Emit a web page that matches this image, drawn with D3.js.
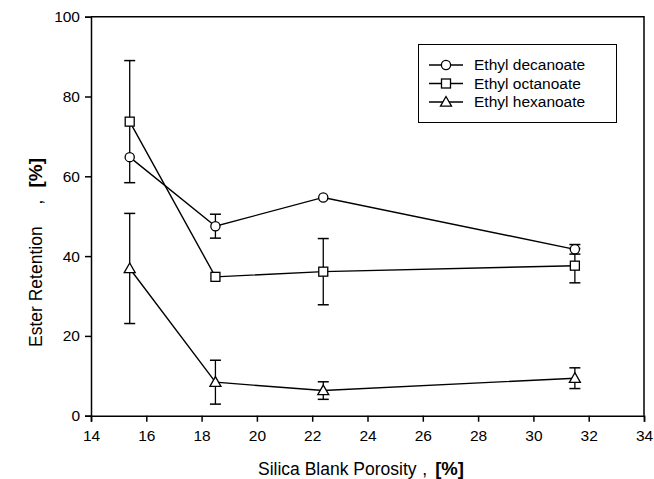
<!DOCTYPE html>
<html>
<head>
<meta charset="utf-8">
<script src="https://cdn.jsdelivr.net/npm/d3@7"></script>
<style>
  html, body { margin: 0; padding: 0; background: #fff; }
  svg { display: block; font-family: "Liberation Sans", Arial, sans-serif; }
</style>
</head>
<body>
<svg id="chart" width="654" height="479"></svg>
<script>
// ---- data ----
const porosity = [15.4, 18.5, 22.4, 31.5];
const seriesNames = ["Ethyl decanoate", "Ethyl octanoate", "Ethyl hexanoate"];
const seriesSymbols = ["circle", "square", "triangle"];
const decanoate = [64.8, 47.5, 54.7, 41.7];
const decanoateErr = [0, 3.0, 0, 1.2];
const octanoate = [73.7, 34.8, 36.1, 37.6];
const octanoateErr = [15.3, 0, 8.3, 4.3];
const hexanoate = [36.9, 8.4, 6.3, 9.4];
const hexanoateErr = [13.8, 5.5, 2.2, 2.6];
const xTicks = [14, 16, 18, 20, 22, 24, 26, 28, 30, 32, 34];
const yTicks = [0, 20, 40, 60, 80, 100];
const xTitleParts = ["Silica Blank Porosity", ",", "[%]"];
const yTitleParts = ["Ester Retention", ",", "[%]"];

const series = [
  { name: seriesNames[0], sym: seriesSymbols[0], v: decanoate, e: decanoateErr },
  { name: seriesNames[1], sym: seriesSymbols[1], v: octanoate, e: octanoateErr },
  { name: seriesNames[2], sym: seriesSymbols[2], v: hexanoate, e: hexanoateErr }
];

// ---- layout ----
const L = 91, R = 644, T = 16.7, B = 415.7;
const svg = d3.select("#chart");
const x = d3.scaleLinear().domain([14, 34]).range([L, R]);
const y = d3.scaleLinear().domain([0, 100]).range([B, T]);

// frame (top & right)
svg.append("path")
  .attr("d", `M${L},${T}H${R}V${B}`)
  .attr("fill", "none").attr("stroke", "#000").attr("stroke-width", 1.5);

// axes
const xAxis = svg.append("g").attr("transform", `translate(0,${B})`)
  .call(d3.axisBottom(x).tickValues(xTicks).tickSize(6).tickPadding(8).tickFormat(d3.format("d")));
const yAxis = svg.append("g").attr("transform", `translate(${L},0)`)
  .call(d3.axisLeft(y).tickValues(yTicks).tickSize(6).tickPadding(5).tickFormat(d3.format("d")));
[xAxis, yAxis].forEach(g => {
  g.select(".domain").attr("stroke", "#000").attr("stroke-width", 1.5);
  g.selectAll(".tick line").attr("stroke", "#000").attr("stroke-width", 1.5);
  g.selectAll(".tick text").attr("fill", "#000").attr("font-size", 15.5)
    .attr("font-family", "'Liberation Sans', Arial, sans-serif");
});

// titles
const xt = svg.append("text").attr("x", 258).attr("y", 475)
  .attr("font-size", 17.5).attr("fill", "#000");
xt.append("tspan").text(xTitleParts[0]);
xt.append("tspan").attr("dx", 7).text(xTitleParts[1]);
xt.append("tspan").attr("dx", 8).attr("font-weight", "bold").attr("font-size", 18.5).text(xTitleParts[2]);

const yt = svg.append("text").attr("transform", `translate(42,347) rotate(-90)`)
  .attr("font-size", 17.5).attr("fill", "#000");
yt.append("tspan").text(yTitleParts[0]);
yt.append("tspan").attr("dx", 22).text(yTitleParts[1]);
yt.append("tspan").attr("dx", 12).attr("font-weight", "bold").attr("font-size", 19).text(yTitleParts[2]);

// symbol helper
function drawSymbol(g, sym, cx, cy) {
  if (sym === "circle") {
    g.append("circle").attr("cx", cx).attr("cy", cy).attr("r", 4.6)
      .attr("fill", "#fff").attr("stroke", "#000").attr("stroke-width", 1.3);
  } else if (sym === "square") {
    g.append("rect").attr("x", cx - 4.5).attr("y", cy - 4.5).attr("width", 9).attr("height", 9)
      .attr("fill", "#fff").attr("stroke", "#000").attr("stroke-width", 1.3);
  } else {
    const s = 5.5;
    g.append("path")
      .attr("d", `M${cx},${cy - s}L${cx + s},${cy + s * 0.75}L${cx - s},${cy + s * 0.75}Z`)
      .attr("fill", "#fff").attr("stroke", "#000").attr("stroke-width", 1.3);
  }
}

const plot = svg.append("g");
// error bars
series.forEach(s => {
  s.v.forEach((v, i) => {
    if (!s.e[i]) return;
    const cx = x(porosity[i]);
    const y1 = y(v + s.e[i]), y2 = y(v - s.e[i]);
    plot.append("line").attr("x1", cx).attr("x2", cx).attr("y1", y1).attr("y2", y2)
      .attr("stroke", "#000").attr("stroke-width", 1.3);
    [y1, y2].forEach(yy => plot.append("line")
      .attr("x1", cx - 5.5).attr("x2", cx + 5.5).attr("y1", yy).attr("y2", yy)
      .attr("stroke", "#000").attr("stroke-width", 1.5));
  });
});
// lines
const line = d3.line().x((d, i) => x(porosity[i])).y(d => y(d));
series.forEach(s => {
  plot.append("path").attr("d", line(s.v)).attr("fill", "none")
    .attr("stroke", "#000").attr("stroke-width", 1.4);
});
// markers
series.forEach(s => {
  s.v.forEach((v, i) => drawSymbol(plot, s.sym, x(porosity[i]), y(v)));
});

// legend
const lg = svg.append("g");
lg.append("rect").attr("x", 418.5).attr("y", 44.5).attr("width", 198).attr("height", 78)
  .attr("fill", "#fff").attr("stroke", "#000").attr("stroke-width", 1);
series.forEach((s, i) => {
  const ry = 65 + i * 18.5;
  lg.append("line").attr("x1", 429).attr("x2", 463).attr("y1", ry).attr("y2", ry)
    .attr("stroke", "#000").attr("stroke-width", 1.4);
  drawSymbol(lg, s.sym, 446, ry);
  lg.append("text").attr("x", 474).attr("y", ry).attr("dy", "0.35em")
    .attr("font-size", 15.5).attr("fill", "#000").text(s.name);
});
</script>
</body>
</html>
